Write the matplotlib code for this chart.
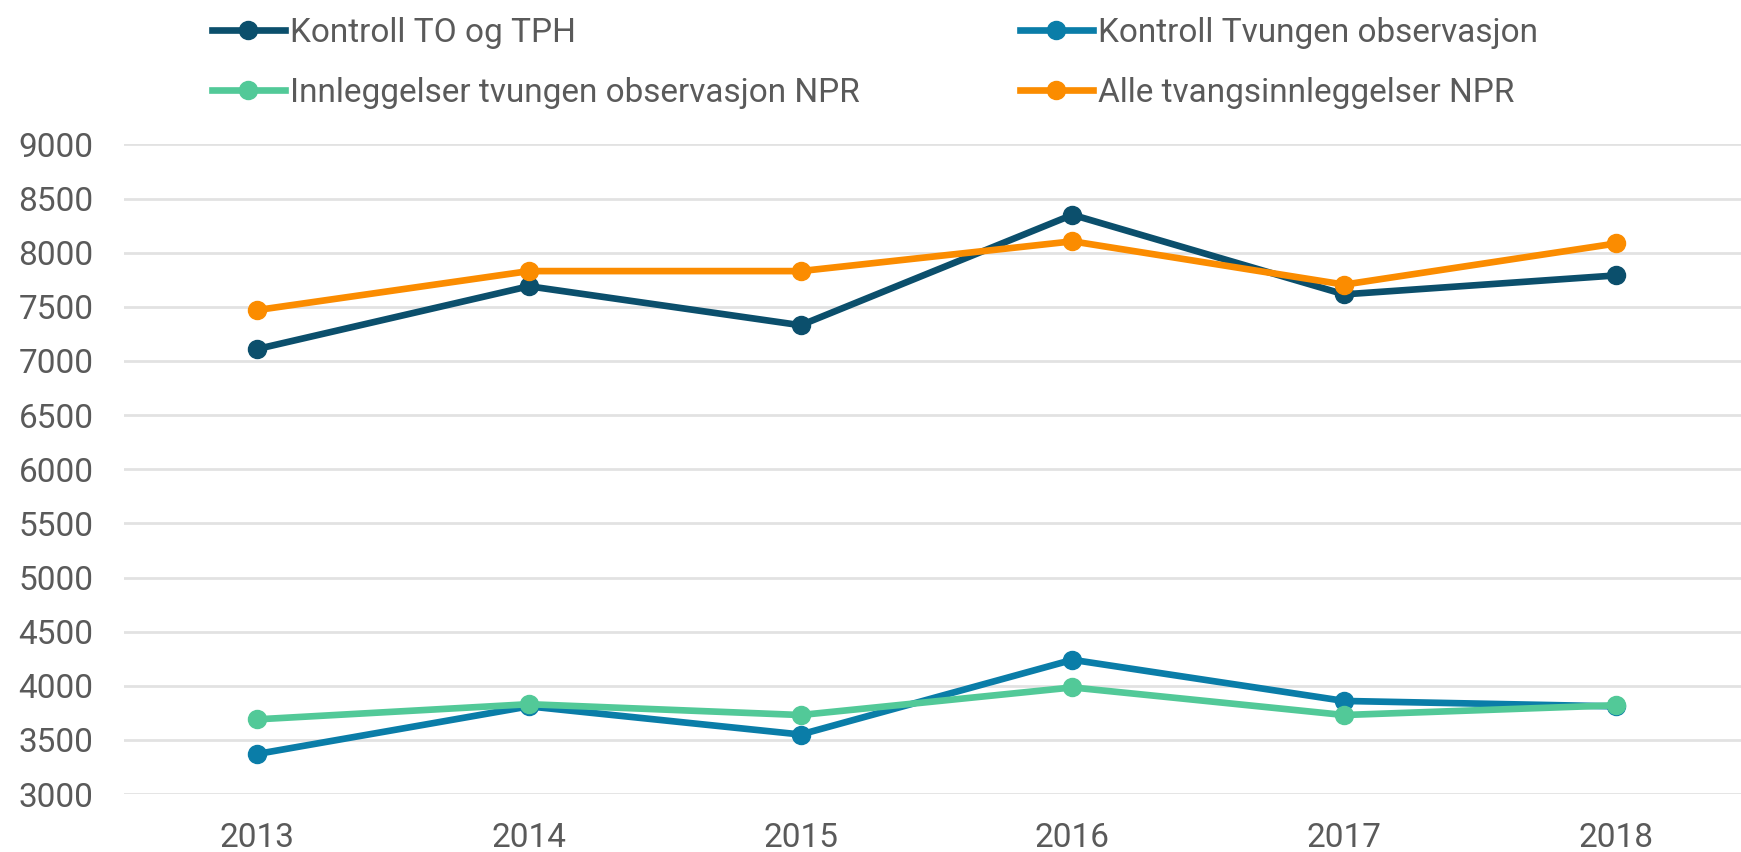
import matplotlib
matplotlib.use("Agg")
import matplotlib.pyplot as plt

plt.rcParams['font.family'] = ['Roboto', 'DejaVu Sans']

years = ["2013", "2014", "2015", "2016", "2017", "2018"]
kontroll_to_tph = [7110, 7690, 7330, 8350, 7615, 7790]
kontroll_tvungen = [3370, 3810, 3550, 4240, 3860, 3810]
innleggelser_tvungen = [3690, 3830, 3730, 3985, 3730, 3820]
alle_tvang = [7470, 7830, 7830, 8105, 7705, 8085]

series = [
    ("Kontroll TO og TPH", kontroll_to_tph, "#0b4f6c"),
    ("Kontroll Tvungen observasjon", kontroll_tvungen, "#0a7da8"),
    ("Innleggelser tvungen observasjon NPR", innleggelser_tvungen, "#52c998"),
    ("Alle tvangsinnleggelser NPR", alle_tvang, "#fb8c00"),
]
# legend is laid out row-wise: col1 = TO/TPH + Innleggelser, col2 = Tvungen + Alle
legend_order = [0, 2, 1, 3]

text_color = "#5a5a5a"
fs = 24

fig = plt.figure(figsize=(17.41, 8.52), dpi=100)
ax = fig.add_axes([0.0712, 0.068, 0.9288, 0.7625])

x = list(range(len(years)))
handles = []
for label, vals, color in series:
    h, = ax.plot(x, vals, color=color, lw=4.8, marker="o", ms=13,
                 solid_joinstyle="round", label=label)
    handles.append(h)

ax.set_xlim(-0.49, 5.46)
ax.set_ylim(3000, 9000)
ax.set_yticks(range(3000, 9001, 500))
ax.set_xticks(x)
ax.set_xticklabels(years)

ax.grid(axis="y", color="#e2e2e2", lw=2)
ax.set_axisbelow(True)
for s in ax.spines.values():
    s.set_visible(False)
ax.tick_params(axis="y", length=0, pad=22, labelsize=fs, labelcolor=text_color)
ax.tick_params(axis="x", length=0, pad=20, labelsize=fs, labelcolor=text_color)

leg = fig.legend([handles[i] for i in legend_order],
                 [series[i][0] for i in legend_order],
                 loc="upper left", bbox_to_anchor=(0.112, 1.0), ncol=2,
                 frameon=False, fontsize=fs, handlelength=2.2,
                 handletextpad=0.15, columnspacing=4.8, labelspacing=0.85,
                 borderaxespad=0.1)
for t in leg.get_texts():
    t.set_color(text_color)

fig.savefig("out.png", dpi=100)
